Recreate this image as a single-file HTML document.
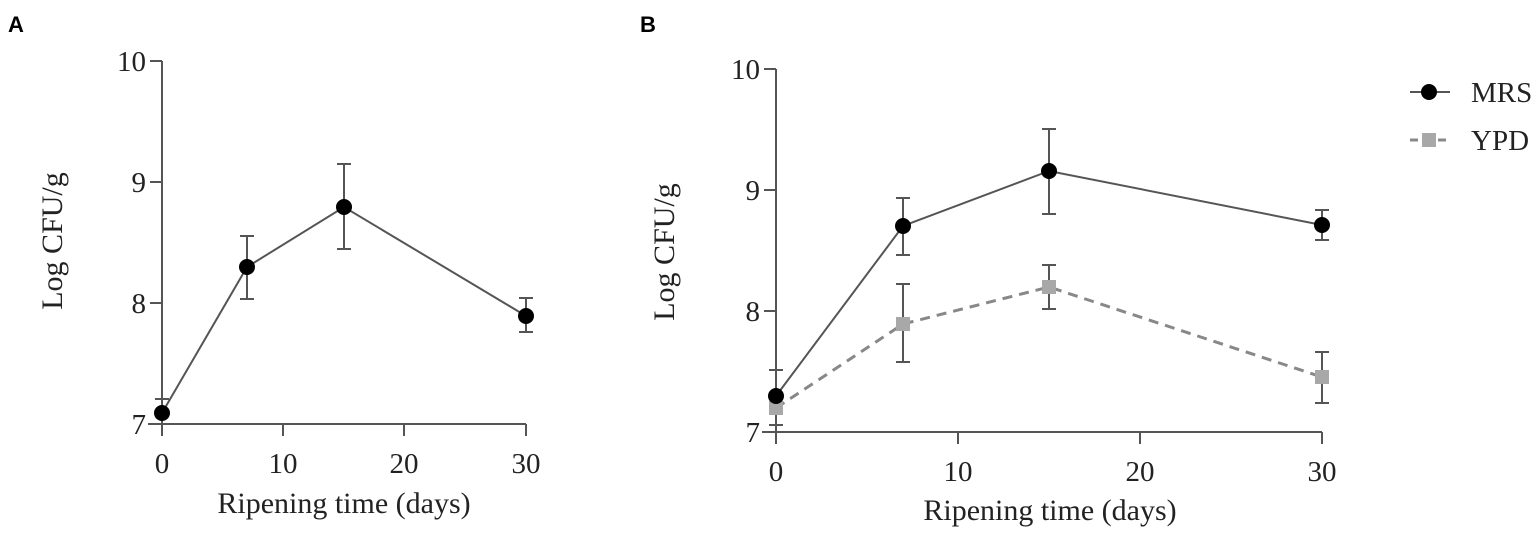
<!DOCTYPE html>
<html><head><meta charset="utf-8"><style>
html,body{margin:0;padding:0;background:#fff;}
svg{display:block;}
text{font-family:"Liberation Serif",serif;fill:#222;}
.b{font-family:"Liberation Sans",sans-serif;font-weight:bold;fill:#000;}
</style></head><body>
<svg width="1535" height="537" viewBox="0 0 1535 537" xmlns="http://www.w3.org/2000/svg">
<text class="b" x="8" y="32" font-size="22">A</text>
<text class="b" x="640" y="32" font-size="22">B</text>

<g stroke="#555" stroke-width="2" fill="none">
<line x1="162" y1="61" x2="162" y2="436"/>
<line x1="148" y1="424" x2="526" y2="424"/>
<line x1="150" y1="61" x2="162" y2="61"/>
<line x1="150" y1="182" x2="162" y2="182"/>
<line x1="150" y1="303" x2="162" y2="303"/>
<line x1="283" y1="424" x2="283" y2="436"/>
<line x1="404" y1="424" x2="404" y2="436"/>
<line x1="526" y1="424" x2="526" y2="436"/>
</g>
<g font-size="29" text-anchor="end">
<text x="146" y="71">10</text><text x="146" y="192">9</text><text x="146" y="313">8</text><text x="146" y="434">7</text>
</g>
<g font-size="29" text-anchor="middle">
<text x="162" y="473">0</text><text x="283" y="473">10</text><text x="404" y="473">20</text><text x="526" y="473">30</text>
<text x="344" y="513" font-size="30">Ripening time (days)</text>
</g>
<text transform="translate(62,241) rotate(-90)" font-size="30" text-anchor="middle">Log CFU/g</text>
<g stroke="#555" stroke-width="2" fill="none">
<polyline points="162,413 247,267 344,207 526,316"/>
<line x1="162" y1="399" x2="162" y2="413"/><line x1="155" y1="399" x2="169" y2="399"/>
<line x1="247" y1="236" x2="247" y2="299"/><line x1="240" y1="236" x2="254" y2="236"/><line x1="240" y1="299" x2="254" y2="299"/>
<line x1="344" y1="164" x2="344" y2="249"/><line x1="337" y1="164" x2="351" y2="164"/><line x1="337" y1="249" x2="351" y2="249"/>
<line x1="526" y1="298" x2="526" y2="332"/><line x1="519" y1="298" x2="533" y2="298"/><line x1="519" y1="332" x2="533" y2="332"/>
</g>
<g fill="#000"><circle cx="162" cy="413" r="8"/><circle cx="247" cy="267" r="8"/><circle cx="344" cy="207" r="8"/><circle cx="526" cy="316" r="8"/></g>

<g stroke="#555" stroke-width="2" fill="none">
<line x1="776" y1="69" x2="776" y2="444"/>
<line x1="762" y1="432" x2="1322" y2="432"/>
<line x1="764" y1="69" x2="776" y2="69"/>
<line x1="764" y1="190" x2="776" y2="190"/>
<line x1="764" y1="311" x2="776" y2="311"/>
<line x1="958" y1="432" x2="958" y2="444"/>
<line x1="1140" y1="432" x2="1140" y2="444"/>
<line x1="1322" y1="432" x2="1322" y2="444"/>
</g>
<g font-size="29" text-anchor="end">
<text x="760" y="79">10</text><text x="760" y="200">9</text><text x="760" y="321">8</text><text x="760" y="442">7</text>
</g>
<g font-size="29" text-anchor="middle">
<text x="776" y="481">0</text><text x="958" y="481">10</text><text x="1140" y="481">20</text><text x="1322" y="481">30</text>
<text x="1050" y="520" font-size="30">Ripening time (days)</text>
</g>
<text transform="translate(674,252) rotate(-90)" font-size="30" text-anchor="middle">Log CFU/g</text>

<g stroke="#888" stroke-width="3" fill="none" stroke-dasharray="10,7">
<polyline points="776,408 903,324 1049,287 1322,377"/>
</g>
<g stroke="#555" stroke-width="2">
<line x1="776" y1="396" x2="776" y2="425"/><line x1="769" y1="425" x2="783" y2="425"/>
<line x1="903" y1="284" x2="903" y2="362"/><line x1="896" y1="284" x2="910" y2="284"/><line x1="896" y1="362" x2="910" y2="362"/>
<line x1="1049" y1="265" x2="1049" y2="309"/><line x1="1042" y1="265" x2="1056" y2="265"/><line x1="1042" y1="309" x2="1056" y2="309"/>
<line x1="1322" y1="352" x2="1322" y2="403"/><line x1="1315" y1="352" x2="1329" y2="352"/><line x1="1315" y1="403" x2="1329" y2="403"/>
</g>
<g fill="#a8a8a8"><rect x="769" y="401" width="14" height="14"/><rect x="896" y="317" width="14" height="14"/><rect x="1042" y="280" width="14" height="14"/><rect x="1315" y="370" width="14" height="14"/></g>

<g stroke="#555" stroke-width="2" fill="none">
<polyline points="776,396 903,226 1049,171 1322,225"/>
<line x1="776" y1="370" x2="776" y2="396"/><line x1="769" y1="370" x2="783" y2="370"/>
<line x1="903" y1="198" x2="903" y2="255"/><line x1="896" y1="198" x2="910" y2="198"/><line x1="896" y1="255" x2="910" y2="255"/>
<line x1="1049" y1="129" x2="1049" y2="214"/><line x1="1042" y1="129" x2="1056" y2="129"/><line x1="1042" y1="214" x2="1056" y2="214"/>
<line x1="1322" y1="210" x2="1322" y2="240"/><line x1="1315" y1="210" x2="1329" y2="210"/><line x1="1315" y1="240" x2="1329" y2="240"/>
</g>
<g fill="#000"><circle cx="776" cy="396" r="8"/><circle cx="903" cy="226" r="8"/><circle cx="1049" cy="171" r="8"/><circle cx="1322" cy="225" r="8"/></g>

<line x1="1410" y1="92" x2="1450" y2="92" stroke="#555" stroke-width="2"/>
<circle cx="1429" cy="92" r="8" fill="#000"/>
<line x1="1410" y1="140" x2="1450" y2="140" stroke="#888" stroke-width="3" stroke-dasharray="8,6"/>
<rect x="1422" y="133" width="14" height="14" fill="#a8a8a8"/>
<text x="1471" y="102" font-size="29">MRS</text>
<text x="1471" y="150" font-size="29">YPD</text>
</svg>
</body></html>
